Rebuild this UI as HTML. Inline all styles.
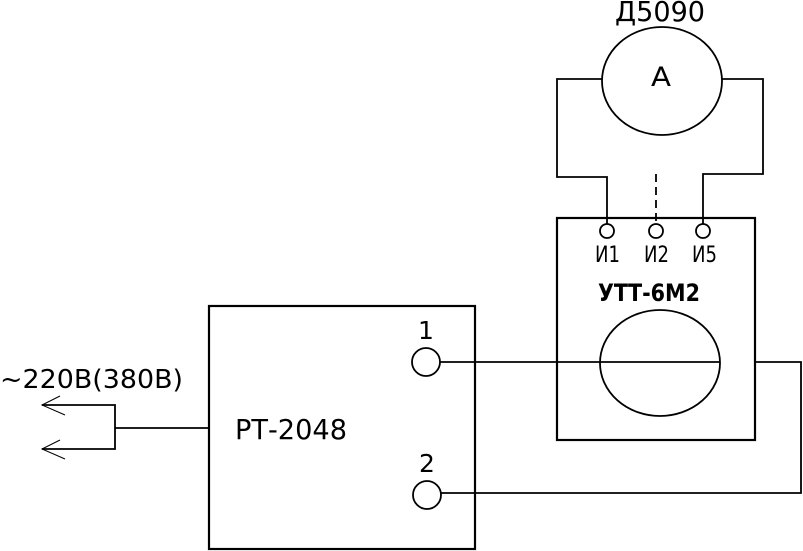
<!DOCTYPE html>
<html><head><style>body{margin:0;background:#fff}</style></head><body>
<svg width="803" height="551" viewBox="0 0 803 551" xmlns="http://www.w3.org/2000/svg" style="display:block">
<g fill="none" stroke="#000" stroke-width="1.8">
<rect x="209" y="306" width="266" height="243" stroke-width="2.2"/>
<circle cx="426" cy="362" r="14"/>
<circle cx="427" cy="495" r="14"/>
<line x1="115" y1="428" x2="209" y2="428"/>
<polyline points="42,405 115,405 115,449 42,449"/>
<polyline points="60,396 42,405 65,415" stroke-width="1"/>
<polyline points="60,440 42,449 65,459" stroke-width="1"/>
<rect x="557" y="218" width="198" height="222" stroke-width="2.2"/>
<ellipse cx="660" cy="363" rx="60" ry="53"/>
<line x1="440" y1="362" x2="720" y2="362"/>
<polyline points="755,362 801,362 801,493 441,493"/>
<circle cx="607" cy="231" r="7"/>
<circle cx="656" cy="231" r="7"/>
<circle cx="703" cy="231" r="7"/>
<ellipse cx="662" cy="81" rx="60" ry="54"/>
<polyline points="602,79 557,79 557,177 607,177 607,224"/>
<polyline points="722,79 763,79 763,174 703,174 703,224"/>
<line x1="656" y1="174" x2="656" y2="224" stroke-dasharray="8,5"/>
</g>
<g font-family="'DejaVu Sans', 'Liberation Sans', sans-serif" fill="#000">
<text x="615" y="21" font-size="28" textLength="90" lengthAdjust="spacingAndGlyphs">Д5090</text>
<text x="651" y="86" font-size="27" textLength="20" lengthAdjust="spacingAndGlyphs">А</text>
<text x="595" y="262" font-size="22" textLength="25" lengthAdjust="spacingAndGlyphs">И1</text>
<text x="644" y="262" font-size="22" textLength="25" lengthAdjust="spacingAndGlyphs">И2</text>
<text x="692" y="262" font-size="22" textLength="25" lengthAdjust="spacingAndGlyphs">И5</text>
<text x="598" y="301" font-size="24" font-weight="bold" textLength="102" lengthAdjust="spacingAndGlyphs">УТТ-6М2</text>
<text x="418" y="339" font-size="25">1</text>
<text x="419" y="472" font-size="25">2</text>
<text x="235" y="439" font-size="28" textLength="112" lengthAdjust="spacingAndGlyphs">РТ-2048</text>
<text x="0" y="388" font-size="26" textLength="183" lengthAdjust="spacingAndGlyphs">~220В(380В)</text>
</g>
</svg>
</body></html>
